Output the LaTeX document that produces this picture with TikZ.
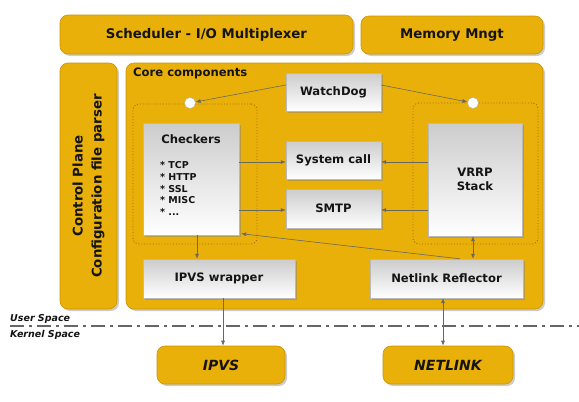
\documentclass[tikz,border=0pt]{standalone}
\usepackage{fontspec}
\setmainfont{DejaVu Sans}
\usetikzlibrary{shadows,arrows.meta}
\definecolor{gold}{RGB}{232,176,8}
\definecolor{goldedge}{RGB}{205,150,0}
\definecolor{arrc}{RGB}{105,105,90}
\definecolor{dotc}{RGB}{165,105,20}
\definecolor{txt}{RGB}{20,20,20}
\begin{document}
\begin{tikzpicture}[x=1pt,y=-1pt,
  gbox/.style={draw=goldedge, line width=0.6pt, fill=gold, rounded corners=8pt, inner sep=0pt,
    drop shadow={shadow xshift=2pt,shadow yshift=-2pt,opacity=0.4}},
  wbox/.style={draw=gray!55, line width=0.4pt, top color=gray!40, bottom color=white, inner sep=0pt,
    drop shadow={shadow xshift=1.5pt,shadow yshift=-1.5pt,opacity=0.45}},
  dotframe/.style={draw=dotc, dotted, line width=0.9pt, rounded corners=6pt, inner sep=0pt},
  bigfont/.style={font=\bfseries\fontsize{13.3}{19}\selectfont, text=txt},
  boxfont/.style={font=\bfseries\fontsize{11.6}{14}\selectfont, text=txt},
  kfont/.style={font=\bfseries\itshape\fontsize{14}{16}\selectfont, text=txt},
  sfont/.style={font=\bfseries\itshape\fontsize{9.5}{11}\selectfont, text=txt},
  arr/.style={draw=arrc, line width=0.6pt, -{Latex[length=5pt,width=4pt]}},
  darr/.style={draw=arrc, line width=0.6pt, {Latex[length=5pt,width=4pt]}-{Latex[length=5pt,width=4pt]}},
  knob/.style={circle, draw=gray!60, line width=0.4pt, fill=white, inner sep=0pt, minimum size=11pt}
]
\useasboundingbox (0,0) rectangle (579,402);
\fill[white] (0,0) rectangle (579,402);

% top level boxes
\node[gbox, bigfont, minimum width=293pt, minimum height=39pt] (sched) at (206.5,34.5) {Scheduler - I/O Multiplexer};
\node[gbox, bigfont, minimum width=182pt, minimum height=38pt] (mem) at (452,35) {Memory Mngt};
\node[gbox, minimum width=57pt, minimum height=246pt] (ctrl) at (88.5,186) {};
\node[bigfont, rotate=90, align=center] (ctrltxt) at (ctrl.center) {Control Plane\\Configuration file parser};
\node[gbox, minimum width=417pt, minimum height=246pt] (core) at (334.5,186) {};
\node[boxfont, anchor=west, inner sep=0pt] (coretxt) at (133,73) {Core components};

% dotted groups
\node[dotframe, minimum width=124pt, minimum height=140pt] (g1) at (195,174) {};
\node[dotframe, minimum width=125pt, minimum height=141pt] (g2) at (475.5,173.5) {};

% white boxes
\node[wbox, boxfont, minimum width=95pt, minimum height=38pt] (watch) at (333.5,92) {WatchDog};
\node[wbox, boxfont, minimum width=95pt, minimum height=38pt] (sys) at (333.5,160) {System call};
\node[wbox, boxfont, minimum width=95pt, minimum height=39pt] (smtp) at (333.5,208.5) {SMTP};
\node[wbox, minimum width=96pt, minimum height=112pt] (check) at (191,179) {};
\node[boxfont, inner sep=0pt] (checktitle) at (191,139) {Checkers};
\node[font=\bfseries\fontsize{9.5}{11.7}\selectfont, text=txt, anchor=west, align=left, inner sep=0pt] (checklist) at (160,188.5) {* TCP\\* HTTP\\* SSL\\* MISC\\* ...};
\node[wbox, boxfont, minimum width=94pt, minimum height=113pt, align=center] (vrrp) at (475,179.5) {VRRP\\Stack};
\node[wbox, boxfont, minimum width=152pt, minimum height=39pt] (ipvsw) at (219,278.5) {IPVS wrapper};
\node[wbox, boxfont, minimum width=153pt, minimum height=39pt] (nlr) at (446.5,278.5) {Netlink Reflector};

% kernel boxes
\node[gbox, kfont, minimum width=128pt, minimum height=38pt] (ipvs) at (221,365) {IPVS};
\node[gbox, kfont, minimum width=130pt, minimum height=38pt] (netl) at (448,365) {NETLINK};

% knobs
\node[knob] (c1) at (190,103) {};
\node[knob] (c2) at (473,103) {};

% user / kernel separator
\coordinate (sepl) at (10,326);
\coordinate (sepr) at (579,326);
\draw[gray!80!black, line width=1.1pt, dash pattern=on 14pt off 5pt on 3pt off 5pt] (sepl) -- (sepr);
\node[sfont, anchor=west, inner sep=0pt] (us) at (10,318.5) {User Space};
\node[sfont, anchor=west, inner sep=0pt] (ks) at (10,335) {Kernel Space};

% connectors
\draw[arr] ([yshift=7pt]watch.west) -- (c1);
\draw[arr] ([yshift=7pt]watch.east) -- (c2);
\coordinate (s1) at ([yshift=-2pt]sys.west);
\coordinate (s2) at ([yshift=-1.5pt]smtp.west);
\coordinate (s3) at ([yshift=-2pt]sys.east);
\coordinate (s4) at ([yshift=-1.5pt]smtp.east);
\draw[arr] (s1 -| check.east) -- (s1);
\draw[arr] (s2 -| check.east) -- (s2);
\draw[arr] (s3 -| vrrp.west) -- (s3);
\draw[arr] (s4 -| vrrp.west) -- (s4);
\coordinate (cb) at ([xshift=6pt]check.south);
\draw[arr] (cb) -- (cb |- ipvsw.north);
\coordinate (iw) at ([xshift=4pt]ipvsw.south);
\draw[arr] (iw) -- (iw |- ipvs.north);
\coordinate (vb) at ([xshift=-2pt]vrrp.south);
\draw[darr] (vb) -- (vb |- nlr.north);
\coordinate (nb) at ([xshift=-3.5pt]nlr.south);
\draw[darr] (nb) -- (nb |- netl.north);
\coordinate (nt) at ([xshift=90pt]nlr.north west);
\draw[arr] (nt) -- ([xshift=2pt,yshift=1.5pt]check.south east);
\end{tikzpicture}
\end{document}
